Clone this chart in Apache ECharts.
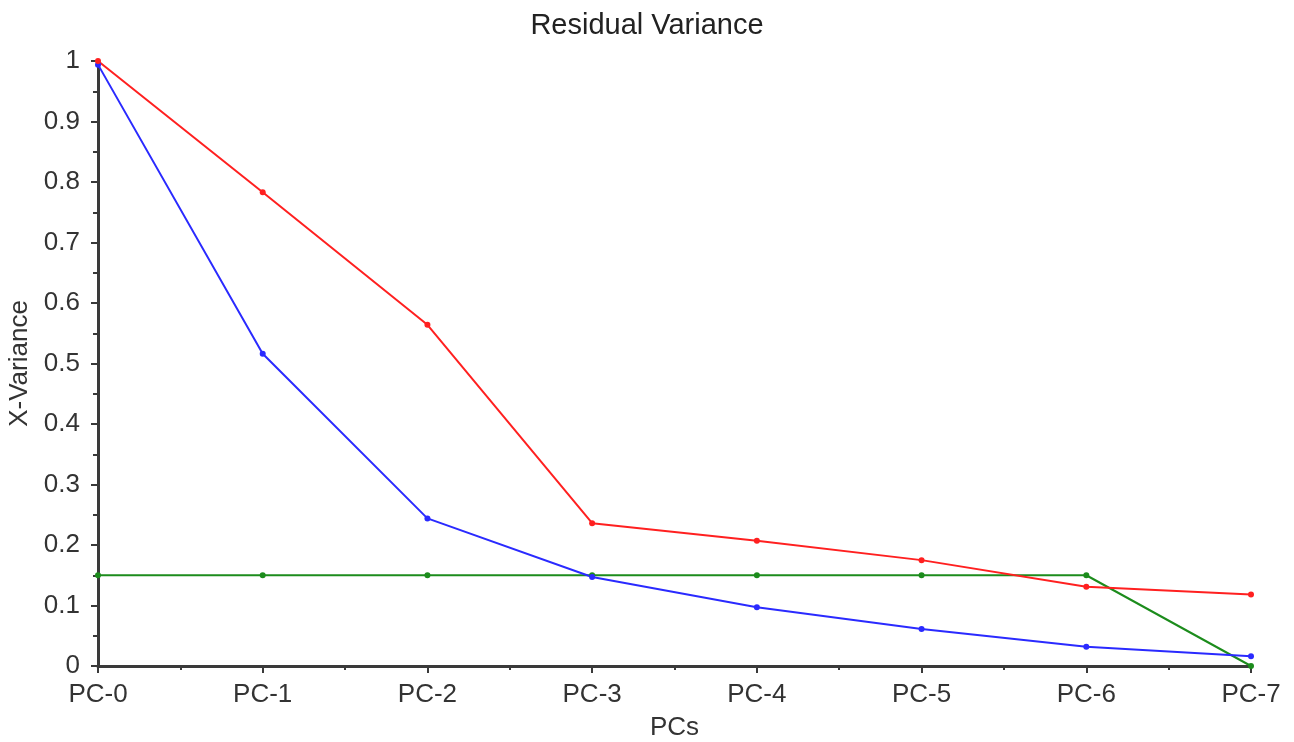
<!DOCTYPE html>
<html>
<head>
<meta charset="utf-8">
<script src="https://cdn.jsdelivr.net/npm/echarts@6/dist/echarts.min.js"></script>
<style>html,body{margin:0;padding:0;background:#fff}#c{width:1294px;height:742px}</style>
</head>
<body>
<div id="c"></div>
<script>
var categories = ['PC-0','PC-1','PC-2','PC-3','PC-4','PC-5','PC-6','PC-7'];
var redValues = [1.0, 0.783, 0.564, 0.236, 0.207, 0.175, 0.131, 0.118];
var blueValues = [0.994, 0.516, 0.244, 0.147, 0.097, 0.061, 0.032, 0.016];
var greenValues = [0.150, 0.150, 0.150, 0.150, 0.150, 0.150, 0.150, 0.0];
var yTicks = [0, 0.1, 0.2, 0.3, 0.4, 0.5, 0.6, 0.7, 0.8, 0.9, 1];

function pairs(vals){ return vals.map(function(v,i){ return [i, v]; }); }
var FONT = 'Liberation Sans, Arial, sans-serif';
var axisColor = '#3a3a3a';

var chart = echarts.init(document.getElementById('c'));
function mk(name, vals, color){
  return {
    name: name, type: 'line', data: pairs(vals),
    symbol: 'circle', symbolSize: 6,
    lineStyle: {color: color, width: 2},
    itemStyle: {color: color},
    animation: false, z: 3
  };
}
chart.setOption({
  animation: false,
  backgroundColor: '#ffffff',
  title: {
    text: 'Residual Variance', left: 'center', top: 6,
    textStyle: {fontFamily: FONT, fontSize: 29, fontWeight: 'normal', color: '#222'}
  },
  grid: {left: 98, right: 43, top: 61, bottom: 76, containLabel: false, outerBoundsMode: 'none'},
  xAxis: {
    type: 'value', min: 0, max: categories.length - 1, interval: 1,
    name: 'PCs', nameLocation: 'middle', nameGap: 49,
    nameTextStyle: {fontFamily: FONT, fontSize: 26, color: '#333'},
    axisLine: {show: true, lineStyle: {color: axisColor, width: 3}},
    axisTick: {show: true, length: 7, lineStyle: {color: axisColor, width: 2}},
    minorTick: {show: true, splitNumber: 2, length: 4, lineStyle: {color: axisColor, width: 2}},
    splitLine: {show: false},
    axisLabel: {
      margin: 16, fontFamily: FONT, fontSize: 26, color: '#333',
      formatter: function(v){ return categories[v] || ''; }
    }
  },
  yAxis: {
    type: 'value', min: yTicks[0], max: yTicks[yTicks.length-1], interval: 0.1,
    name: 'X-Variance', nameLocation: 'middle', nameRotate: 90, nameGap: 62,
    nameTextStyle: {fontFamily: FONT, fontSize: 26, color: '#333'},
    axisLine: {show: true, lineStyle: {color: axisColor, width: 3}},
    axisTick: {show: true, length: 7, lineStyle: {color: axisColor, width: 2}},
    minorTick: {show: true, splitNumber: 2, length: 5, lineStyle: {color: axisColor, width: 2}},
    splitLine: {show: false},
    axisLabel: {
      margin: 18, fontFamily: FONT, fontSize: 26, color: '#333',
      formatter: function(v){ return String(Math.round(v*10)/10); }
    }
  },
  series: [
    mk('green', greenValues, '#1c8c1c'),
    mk('blue', blueValues, '#2a2aff'),
    mk('red', redValues, '#ff2020')
  ]
});
</script>
</body>
</html>
